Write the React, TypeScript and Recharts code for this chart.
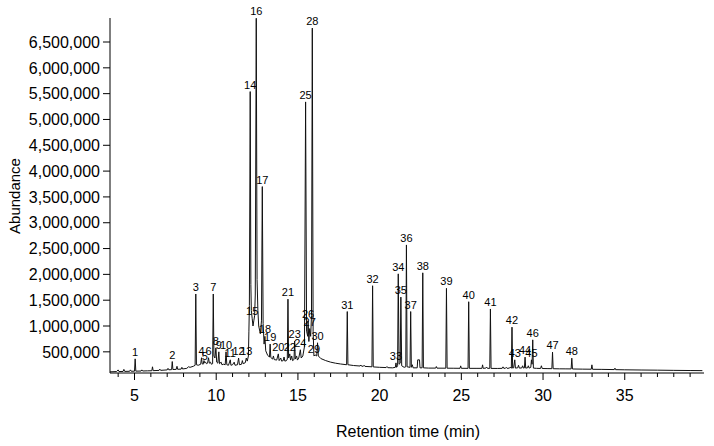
import React from 'react';
import { ComposedChart, Line, Scatter, XAxis, YAxis } from 'recharts';

// chromatogram trace: [retention time (min), abundance]
const trace: [number, number][] = [
  [3.5, 112000], [3.9, 118000], [4.0, 150000], [4.05, 118000], [4.3, 120000], [4.35, 160000], [4.4, 121000],
  [4.7, 123000], [4.75, 150000], [4.8, 124000],
  [5.0, 125000], [5.04, 364000], [5.08, 126000],
  [5.4, 128000], [5.45, 150000], [5.5, 129000],
  [5.8, 132000], [6.06, 134000], [6.1, 210000], [6.14, 136000],
  [6.5, 140000], [6.55, 165000], [6.6, 141000],
  [7.0, 150000], [7.05, 180000], [7.1, 152000],
  [7.27, 155000], [7.31, 312000], [7.35, 157000],
  [7.55, 160000], [7.6, 220000], [7.64, 162000],
  [7.85, 165000], [7.9, 200000], [7.94, 168000],
  [8.2, 180000], [8.3, 210000], [8.4, 200000],
  [8.6, 220000], [8.71, 240000], [8.75, 1620000], [8.79, 250000],
  [8.9, 240000], [9.05, 260000], [9.1, 385000], [9.14, 270000],
  [9.2, 260000], [9.25, 330000], [9.3, 285000], [9.35, 300000], [9.4, 270000],
  [9.47, 280000], [9.53, 385000], [9.58, 280000], [9.65, 300000], [9.7, 260000],
  [9.78, 270000], [9.82, 1620000], [9.86, 420000], [9.92, 380000],
  [9.98, 577000], [10.03, 300000], [10.1, 280000], [10.16, 500000], [10.2, 270000],
  [10.3, 300000], [10.35, 250000], [10.45, 260000], [10.55, 250000], [10.6, 500000], [10.65, 250000],
  [10.75, 240000], [10.86, 345000], [10.9, 240000],
  [11.0, 250000], [11.1, 300000], [11.15, 240000], [11.3, 250000], [11.37, 380000], [11.42, 250000],
  [11.55, 260000], [11.6, 330000], [11.65, 270000], [11.78, 290000], [11.84, 380000], [11.9, 320000],
  [11.97, 420000], [12.0, 900000], [12.03, 1400000], [12.08, 5540000], [12.12, 1800000], [12.15, 1300000],
  [12.2, 1150000], [12.25, 1000000], [12.3, 1100000], [12.35, 1200000],
  [12.39, 1600000], [12.45, 6960000], [12.5, 1900000], [12.55, 1300000], [12.6, 1000000], [12.7, 850000],
  [12.77, 1100000], [12.82, 3700000], [12.87, 1050000], [12.93, 650000], [12.98, 800000], [13.03, 520000],
  [13.15, 430000],
  [13.26, 400000], [13.3, 650000], [13.34, 390000], [13.45, 360000], [13.5, 420000], [13.55, 350000],
  [13.7, 340000], [13.8, 460000], [13.85, 330000], [13.95, 380000], [14.0, 320000], [14.1, 330000],
  [14.15, 400000], [14.2, 320000], [14.3, 330000],
  [14.35, 360000], [14.39, 1520000], [14.43, 380000], [14.5, 460000], [14.55, 340000], [14.62, 420000],
  [14.67, 330000], [14.76, 350000], [14.8, 710000], [14.84, 360000], [14.92, 420000], [14.97, 340000],
  [15.05, 380000], [15.15, 540000], [15.2, 380000],
  [15.3, 420000], [15.4, 600000], [15.47, 5340000], [15.53, 900000], [15.6, 800000], [15.62, 1100000],
  [15.67, 700000], [15.72, 950000], [15.78, 800000], [15.83, 1200000], [15.88, 6770000], [15.93, 900000],
  [15.98, 420000], [16.05, 440000], [16.15, 420000], [16.2, 675000], [16.25, 420000],
  [16.4, 370000], [16.7, 330000], [17.0, 300000], [17.3, 280000], [17.6, 265000],
  [17.98, 250000], [18.02, 1280000], [18.06, 250000],
  [18.4, 235000], [18.8, 225000], [18.85, 245000], [18.9, 222000], [19.0, 220000], [19.05, 240000],
  [19.1, 218000], [19.53, 210000], [19.57, 1780000], [19.61, 208000],
  [20.0, 200000], [20.4, 195000], [20.45, 215000], [20.5, 193000], [20.8, 190000],
  [20.96, 200000], [21.0, 286000], [21.04, 200000], [21.1, 230000], [21.14, 2010000], [21.19, 260000],
  [21.26, 280000], [21.3, 1560000], [21.35, 230000], [21.5, 200000], [21.6, 210000], [21.64, 2570000],
  [21.68, 210000], [21.86, 200000], [21.9, 1280000], [21.94, 200000], [22.0, 250000], [22.05, 190000],
  [22.3, 190000], [22.33, 345000], [22.44, 345000], [22.47, 190000],
  [22.6, 190000], [22.64, 2030000], [22.68, 190000],
  [23.0, 185000], [23.43, 185000], [23.47, 215000], [23.51, 184000],
  [24.05, 183000], [24.09, 1730000], [24.13, 183000],
  [24.5, 182000], [24.92, 181000], [24.96, 228000], [25.0, 181000],
  [25.41, 180000], [25.45, 1470000], [25.49, 180000],
  [25.9, 180000], [26.26, 180000], [26.3, 248000], [26.34, 180000], [26.5, 185000], [26.55, 205000],
  [26.6, 180000], [26.74, 180000], [26.78, 1330000], [26.82, 179000],
  [27.2, 178000], [27.5, 180000], [27.55, 209000], [27.6, 180000], [27.7, 182000], [27.75, 200000],
  [27.8, 180000], [27.95, 185000], [28.0, 205000], [28.06, 182000], [28.1, 978000], [28.14, 185000],
  [28.2, 190000], [28.27, 345000], [28.31, 185000], [28.45, 190000], [28.5, 240000], [28.55, 185000],
  [28.7, 188000], [28.75, 230000], [28.8, 185000], [28.86, 190000], [28.9, 397000], [28.94, 185000],
  [29.05, 190000], [29.1, 230000], [29.15, 185000], [29.25, 200000], [29.29, 345000], [29.33, 260000],
  [29.37, 732000], [29.41, 185000],
  [29.6, 180000], [29.85, 178000], [29.9, 230000], [29.95, 177000], [30.3, 175000],
  [30.54, 174000], [30.58, 494000], [30.62, 173000],
  [31.0, 171000], [31.4, 170000], [31.72, 169000], [31.76, 377000], [31.8, 168000],
  [32.4, 165000], [32.95, 163000], [32.99, 248000], [33.03, 162000], [33.6, 160000],
  [34.36, 156000], [34.4, 184000], [34.44, 155000],
  [35.0, 152000], [36.0, 148000], [37.0, 145000], [38.0, 141000], [39.0, 138000], [39.75, 136000],
];

// numbered peaks
const peakNo = [
  1, 2, 3, 4, 5, 6, 7, 8, 9, 10, 11, 12, 13, 14, 15, 16, 17, 18, 19, 20, 21, 22, 23, 24,
  25, 26, 27, 28, 29, 30, 31, 32, 33, 34, 35, 36, 37, 38, 39, 40, 41, 42, 43, 44, 45, 46, 47, 48,
];
const peakRt = [
  5.04, 7.31, 8.75, 9.1, 9.3, 9.53, 9.82, 9.98, 10.16, 10.6, 10.86, 11.37, 11.84, 12.08, 12.2, 12.45,
  12.82, 12.98, 13.3, 13.8, 14.39, 14.5, 14.8, 15.15, 15.47, 15.62, 15.72, 15.88, 15.98, 16.2, 18.02, 19.57,
  21.0, 21.14, 21.3, 21.64, 21.9, 22.64, 24.09, 25.45, 26.78, 28.1, 28.27, 28.9, 29.29, 29.37, 30.58, 31.76,
];
const peakHeight = [
  364000, 312000, 1620000, 385000, 285000, 385000, 1620000, 577000, 500000, 500000, 345000, 380000,
  380000, 5540000, 1150000, 6960000, 3700000, 800000, 650000, 460000, 1520000, 460000, 710000, 540000,
  5340000, 1100000, 950000, 6770000, 420000, 675000, 1280000, 1780000, 286000, 2010000, 1560000, 2570000,
  1280000, 2030000, 1730000, 1470000, 1330000, 978000, 345000, 397000, 345000, 732000, 494000, 377000,
];

const yTicks = [500000, 1000000, 1500000, 2000000, 2500000, 3000000, 3500000, 4000000, 4500000, 5000000, 5500000, 6000000, 6500000];
const xTicks = [4, 5, 6, 7, 8, 9, 10, 11, 12, 13, 14, 15, 16, 17, 18, 19, 20, 21, 22, 23, 24, 25, 26, 27, 28, 29, 30, 31, 32, 33, 34, 35, 36, 37, 38, 39];
const xLabelled = [5, 10, 15, 20, 25, 30, 35];

const traceData = trace.map(([time, abundance]) => ({ time, abundance }));
const peakData = peakNo.map((id, i) => ({ id, time: peakRt[i], abundance: peakHeight[i] }));

const FONT = '"Liberation Sans", Arial, sans-serif';

const XTick = (props: any) => {
  const { x, y, payload } = props;
  const major = xLabelled.includes(payload.value);
  return (
    <g>
      <line x1={x} x2={x} y1={y} y2={y + (major ? 7 : 4)} stroke="#000" strokeWidth={1} />
      {major && (
        <text x={x} y={y + 28} textAnchor="middle" fontSize={16} fontFamily={FONT} fill="#000">
          {payload.value}
        </text>
      )}
    </g>
  );
};

const PeakLabel = (props: any) => {
  const { cx, cy, payload } = props;
  return (
    <text x={cx} y={cy - 3} textAnchor="middle" fontSize={11} fontFamily={FONT} fill="#000">
      {payload.id}
    </text>
  );
};

export default function App() {
  return (
    <div style={{ position: 'absolute', left: 0, top: 0, width: 714, height: 446, background: '#fff' }}>
      <ComposedChart width={714} height={446} data={traceData} margin={{ top: 18, right: 10, bottom: 0, left: 0 }}>
        <XAxis
          dataKey="time"
          type="number"
          domain={[3.5, 39.85]}
          ticks={xTicks}
          interval={0}
          height={73}
          stroke="#000"
          tickLine={false}
          tickSize={0}
          tickMargin={0}
          tick={<XTick />}
          label={{
            content: () => (
              <text x={408} y={437} textAnchor="middle" fontSize={16} fontFamily={FONT} fill="#000">
                Retention time (min)
              </text>
            ),
          }}
        />
        <YAxis
          type="number"
          domain={[90000, 6965000]}
          ticks={yTicks}
          interval={0}
          width={110}
          stroke="#000"
          tickSize={7}
          tickMargin={3}
          tick={{ fontSize: 16, fontFamily: FONT, fill: '#000' }}
          tickFormatter={(v: number) => v.toLocaleString('en-US')}
          label={{
            content: () => (
              <text x={20} y={196} transform="rotate(-90 20 196)" textAnchor="middle" fontSize={15} fontFamily={FONT} fill="#000">
                Abundance
              </text>
            ),
          }}
        />
        <Line
          type="linear"
          dataKey="abundance"
          stroke="#111"
          strokeWidth={1}
          dot={false}
          activeDot={false}
          isAnimationActive={false}
        />
        <Scatter data={peakData} dataKey="abundance" shape={<PeakLabel />} isAnimationActive={false} />
      </ComposedChart>
    </div>
  );
}
